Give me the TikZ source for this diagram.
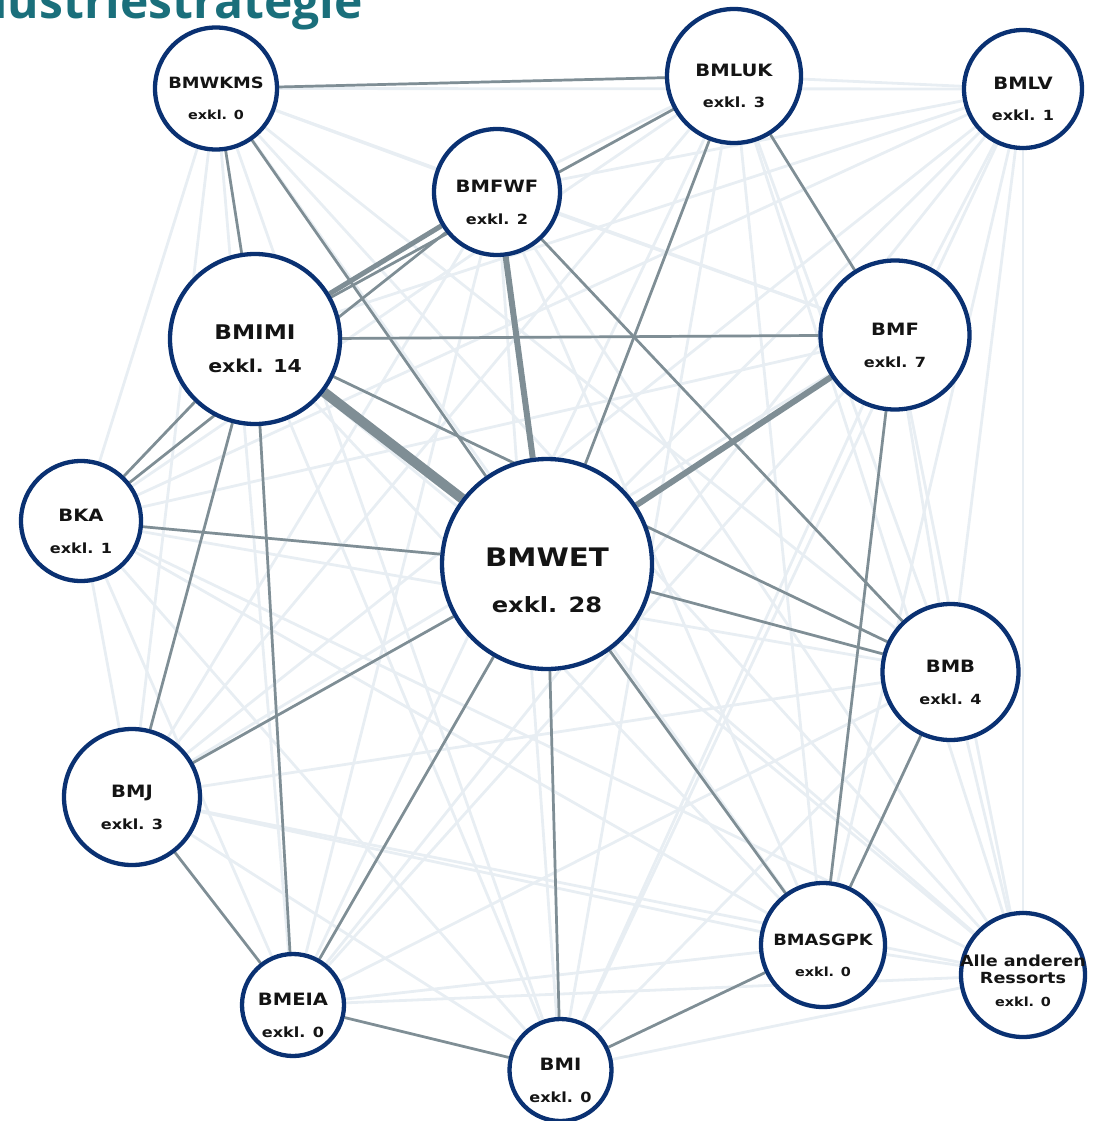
\documentclass[tikz,border=0pt]{standalone}
\usepackage{fontspec}
\usetikzlibrary{backgrounds}
\newfontfamily\labfont{DejaVu Sans}[FakeStretch=1.15]
\newfontfamily\titlefont{Open Sans}
\definecolor{navy}{RGB}{10,49,114}
\definecolor{darkedge}{RGB}{127,142,149}
\definecolor{lightedge}{RGB}{232,238,243}
\definecolor{teal}{RGB}{26,111,123}
\tikzset{
  ressort/.style={circle, draw=navy, line width=4.3pt, fill=white, inner sep=0pt, minimum size=#1},
  lab/.style={anchor=base, inner sep=0pt, text=black!92, font=\labfont\bfseries},
  light/.style={draw=lightedge, line width=2.8pt},
  dark/.style={draw=darkedge, line width=2.7pt},
}
\newcommand\fs[1]{\fontsize{#1}{#1}\selectfont}
\begin{document}
\begin{tikzpicture}[x=1pt,y=-1pt]
\useasboundingbox (0,0) rectangle (1096,1121);
\node[anchor=base east, inner sep=0pt, text=teal, font=\titlefont\bfseries\fs{48}] (title) at (363,19) {Industriestrategie};

% nodes
\node[ressort=122pt] (wkms) at (216,88.5) {};
\node[ressort=134pt] (luk) at (734,76) {};
\node[ressort=118pt] (lv) at (1023,89) {};
\node[ressort=126pt] (fwf) at (497,192) {};
\node[ressort=170pt] (imi) at (255,339) {};
\node[ressort=149pt] (f) at (895,335) {};
\node[ressort=120pt] (bka) at (81,521) {};
\node[ressort=210pt] (wet) at (547,564) {};
\node[ressort=136pt] (bmb) at (950.5,672) {};
\node[ressort=136pt] (bmj) at (132,797) {};
\node[ressort=124pt] (asg) at (823,945) {};
\node[ressort=124pt] (alle) at (1023,975) {};
\node[ressort=102pt] (eia) at (293,1005) {};
\node[ressort=102pt] (bmi) at (560.5,1070) {};

% labels
\node[lab, font=\labfont\bfseries\fs{15.5}] (wkmsA) at ([yshift=-0.5pt]wkms.center) {BMWKMS};
\node[lab, font=\labfont\bfseries\fs{12.5}] (wkmsB) at ([yshift=-31.5pt]wkms.center) {exkl. 0};
\node[lab, font=\labfont\bfseries\fs{17}] (lukA) at ([yshift=-0.7pt]luk.center) {BMLUK};
\node[lab, font=\labfont\bfseries\fs{14}] (lukB) at ([yshift=-32pt]luk.center) {exkl. 3};
\node[lab, font=\labfont\bfseries\fs{17}] (lvA) at ([yshift=-0.7pt]lv.center) {BMLV};
\node[lab, font=\labfont\bfseries\fs{14}] (lvB) at ([yshift=-32pt]lv.center) {exkl. 1};
\node[lab, font=\labfont\bfseries\fs{17}] (fwfA) at ([yshift=-0.7pt]fwf.center) {BMFWF};
\node[lab, font=\labfont\bfseries\fs{14}] (fwfB) at ([yshift=-32pt]fwf.center) {exkl. 2};
\node[lab, font=\labfont\bfseries\fs{20.2}] (imiA) at ([yshift=-0.7pt]imi.center) {BMIMI};
\node[lab, font=\labfont\bfseries\fs{17.8}] (imiB) at ([yshift=-33.3pt]imi.center) {exkl. 14};
\node[lab, font=\labfont\bfseries\fs{17}] (fA) at ([yshift=-0.7pt]f.center) {BMF};
\node[lab, font=\labfont\bfseries\fs{14}] (fB) at ([yshift=-32pt]f.center) {exkl. 7};
\node[lab, font=\labfont\bfseries\fs{17}] (bkaA) at ([yshift=-0.7pt]bka.center) {BKA};
\node[lab, font=\labfont\bfseries\fs{14}] (bkaB) at ([yshift=-32pt]bka.center) {exkl. 1};
\node[lab, font=\labfont\bfseries\fs{25.5}] (wetA) at ([yshift=-2.7pt]wet.center) {BMWET};
\node[lab, font=\labfont\bfseries\fs{21}] (wetB) at ([yshift=-48.3pt]wet.center) {exkl. 28};
\node[lab, font=\labfont\bfseries\fs{17}] (bmbA) at ([yshift=-0.7pt]bmb.center) {BMB};
\node[lab, font=\labfont\bfseries\fs{14}] (bmbB) at ([yshift=-32pt]bmb.center) {exkl. 4};
\node[lab, font=\labfont\bfseries\fs{17}] (bmjA) at ([yshift=-0.7pt]bmj.center) {BMJ};
\node[lab, font=\labfont\bfseries\fs{14}] (bmjB) at ([yshift=-32pt]bmj.center) {exkl. 3};
\node[lab, font=\labfont\bfseries\fs{15.5}] (asgA) at ([yshift=0pt]asg.center) {BMASGPK};
\node[lab, font=\labfont\bfseries\fs{12.5}] (asgB) at ([yshift=-31.7pt]asg.center) {exkl. 0};
\node[lab, font=\labfont\bfseries\fs{15.3}] (alleA) at ([yshift=9pt]alle.center) {Alle anderen};
\node[lab, font=\labfont\bfseries\fs{15.3}] (alleC) at ([yshift=-8.3pt]alle.center) {Ressorts};
\node[lab, font=\labfont\bfseries\fs{12.5}] (alleB) at ([yshift=-31.7pt]alle.center) {exkl. 0};
\node[lab, font=\labfont\bfseries\fs{17}] (eiaA) at ([yshift=-0.7pt]eia.center) {BMEIA};
\node[lab, font=\labfont\bfseries\fs{14}] (eiaB) at ([yshift=-32pt]eia.center) {exkl. 0};
\node[lab, font=\labfont\bfseries\fs{17}] (bmiA) at ([yshift=-0.7pt]bmi.center) {BMI};
\node[lab, font=\labfont\bfseries\fs{14}] (bmiB) at ([yshift=-32pt]bmi.center) {exkl. 0};

\begin{pgfonlayer}{background}
% light edges between all pairs
\foreach \a [count=\i] in {wkms,luk,lv,fwf,imi,f,bka,wet,bmb,bmj,asg,alle,eia,bmi}{
  \foreach \b [count=\j] in {wkms,luk,lv,fwf,imi,f,bka,wet,bmb,bmj,asg,alle,eia,bmi}{
    \ifnum\j>\i \draw[light] (\a) -- (\b); \fi
  }
}
% dark edges
\foreach \a/\b in {wkms/luk, wkms/imi, wkms/wet, luk/imi, luk/wet, luk/f, fwf/bmb, imi/f,
  imi/bka, bka/fwf, imi/bmj, imi/eia, imi/bmb, bka/wet, wet/bmj, wet/eia, wet/bmi,
  wet/asg, wet/bmb, f/asg, bmb/asg, bmj/eia, eia/bmi, bmi/asg}
  \draw[dark] (\a) -- (\b);
\draw[dark, line width=10pt] (imi) -- (wet);
\draw[dark, line width=6pt] (fwf) -- (wet);
\draw[dark, line width=6pt] (wet) -- (f);
\draw[dark, line width=5pt] (fwf) -- (imi);
\end{pgfonlayer}
\end{tikzpicture}
\end{document}
